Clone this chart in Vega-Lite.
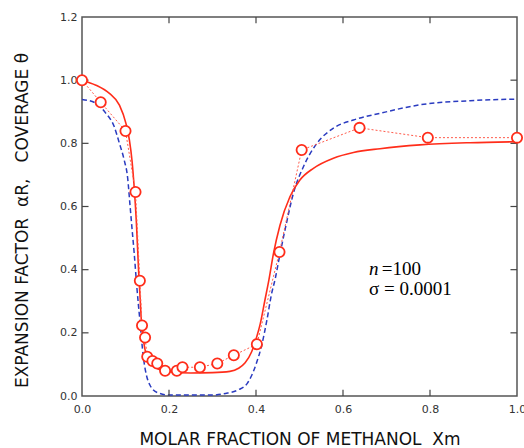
{
  "$schema": "https://vega.github.io/schema/vega-lite/v6.json",
  "width": 435,
  "height": 379,
  "autosize": {"type": "none"},
  "padding": {"left": 82, "top": 17, "right": 7, "bottom": 52},
  "background": "white",
  "config": {
    "view": {"stroke": "#555", "strokeWidth": 1.5},
    "axis": {
      "domain": false,
      "ticks": false,
      "grid": false,
      "labelFlush": false,
      "labelFont": "DejaVu Sans",
      "labelFontSize": 11,
      "labelColor": "#333",
      "titleFont": "DejaVu Sans",
      "titleFontWeight": "normal",
      "titleColor": "#111"
    }
  },
  "datasets": {
    "blue": [
      {"x": 0, "y": 0.939}, {"x": 0.032, "y": 0.927}, {"x": 0.055, "y": 0.895},
      {"x": 0.074, "y": 0.853}, {"x": 0.086, "y": 0.8}, {"x": 0.097, "y": 0.747},
      {"x": 0.105, "y": 0.69}, {"x": 0.11, "y": 0.61}, {"x": 0.115, "y": 0.53},
      {"x": 0.12, "y": 0.452}, {"x": 0.126, "y": 0.346}, {"x": 0.133, "y": 0.24},
      {"x": 0.141, "y": 0.124}, {"x": 0.149, "y": 0.061}, {"x": 0.156, "y": 0.035},
      {"x": 0.164, "y": 0.019}, {"x": 0.179, "y": 0.008}, {"x": 0.2, "y": 0.003},
      {"x": 0.3, "y": 0.003}, {"x": 0.33, "y": 0.008}, {"x": 0.36, "y": 0.02},
      {"x": 0.38, "y": 0.04}, {"x": 0.39, "y": 0.065}, {"x": 0.4, "y": 0.1},
      {"x": 0.413, "y": 0.16}, {"x": 0.425, "y": 0.24}, {"x": 0.436, "y": 0.325},
      {"x": 0.444, "y": 0.37}, {"x": 0.454, "y": 0.441}, {"x": 0.47, "y": 0.547},
      {"x": 0.486, "y": 0.642}, {"x": 0.509, "y": 0.726}, {"x": 0.54, "y": 0.8},
      {"x": 0.578, "y": 0.848}, {"x": 0.624, "y": 0.874}, {"x": 0.685, "y": 0.895},
      {"x": 0.777, "y": 0.922}, {"x": 0.892, "y": 0.935}, {"x": 1.0, "y": 0.94}
    ],
    "red": [
      {"x": 0, "y": 1.0}, {"x": 0.032, "y": 0.984}, {"x": 0.063, "y": 0.958},
      {"x": 0.086, "y": 0.921}, {"x": 0.101, "y": 0.863}, {"x": 0.109, "y": 0.81},
      {"x": 0.115, "y": 0.745}, {"x": 0.12, "y": 0.66}, {"x": 0.125, "y": 0.55},
      {"x": 0.13, "y": 0.4}, {"x": 0.134, "y": 0.3}, {"x": 0.137, "y": 0.225},
      {"x": 0.141, "y": 0.18}, {"x": 0.145, "y": 0.146}, {"x": 0.15, "y": 0.125},
      {"x": 0.16, "y": 0.1}, {"x": 0.18, "y": 0.083}, {"x": 0.2, "y": 0.077},
      {"x": 0.25, "y": 0.073}, {"x": 0.3, "y": 0.074}, {"x": 0.34, "y": 0.078},
      {"x": 0.36, "y": 0.088}, {"x": 0.375, "y": 0.105}, {"x": 0.39, "y": 0.14},
      {"x": 0.4, "y": 0.18}, {"x": 0.41, "y": 0.23}, {"x": 0.42, "y": 0.3},
      {"x": 0.43, "y": 0.37}, {"x": 0.44, "y": 0.45}, {"x": 0.455, "y": 0.54},
      {"x": 0.478, "y": 0.631}, {"x": 0.501, "y": 0.684}, {"x": 0.532, "y": 0.721},
      {"x": 0.578, "y": 0.753}, {"x": 0.624, "y": 0.771}, {"x": 0.685, "y": 0.783},
      {"x": 0.777, "y": 0.795}, {"x": 0.892, "y": 0.802}, {"x": 1.0, "y": 0.805}
    ],
    "exp": [
      {"x": 0.0, "y": 1.0}, {"x": 0.043, "y": 0.93}, {"x": 0.1, "y": 0.839},
      {"x": 0.123, "y": 0.646}, {"x": 0.133, "y": 0.365}, {"x": 0.138, "y": 0.223},
      {"x": 0.145, "y": 0.185}, {"x": 0.15, "y": 0.124}, {"x": 0.162, "y": 0.111},
      {"x": 0.173, "y": 0.103}, {"x": 0.191, "y": 0.08}, {"x": 0.218, "y": 0.08},
      {"x": 0.231, "y": 0.091}, {"x": 0.271, "y": 0.091}, {"x": 0.311, "y": 0.103},
      {"x": 0.349, "y": 0.129}, {"x": 0.402, "y": 0.164}, {"x": 0.454, "y": 0.456},
      {"x": 0.505, "y": 0.779}, {"x": 0.638, "y": 0.849}, {"x": 0.795, "y": 0.818},
      {"x": 1.0, "y": 0.818}
    ],
    "xticks": [{"v": 0.2}, {"v": 0.4}, {"v": 0.6}, {"v": 0.8}],
    "yticks": [{"v": 0.2}, {"v": 0.4}, {"v": 0.6}, {"v": 0.8}, {"v": 1.0}],
    "noteItalic": [{"x": 0.66, "y": 0.383, "t": "n"}],
    "note": [
      {"x": 0.689, "y": 0.383, "t": "=100"},
      {"x": 0.66, "y": 0.32, "t": "σ = 0.0001"}
    ]
  },
  "layer": [
    {
      "data": {"name": "blue"},
      "mark": {"type": "line", "color": "#2a3bc0", "strokeWidth": 1.5, "strokeDash": [5, 3], "interpolate": "monotone"},
      "encoding": {
        "x": {
          "field": "x", "type": "quantitative",
          "scale": {"domain": [0, 1], "nice": false},
          "axis": {
            "orient": "bottom",
            "values": [0, 0.2, 0.4, 0.6, 0.8, 1.0],
            "format": ".1f",
            "labelPadding": 7,
            "title": "MOLAR FRACTION OF METHANOL\u00a0\u00a0Xm",
            "titleFontSize": 17,
            "titlePadding": 17
          }
        },
        "y": {
          "field": "y", "type": "quantitative",
          "scale": {"domain": [0, 1.2], "nice": false},
          "axis": {
            "orient": "left",
            "values": [0, 0.2, 0.4, 0.6, 0.8, 1.0, 1.2],
            "format": ".1f",
            "labelPadding": 5,
            "title": "EXPANSION FACTOR\u00a0\u00a0αR,\u00a0\u00a0\u00a0COVERAGE\u00a0θ",
            "titleFontSize": 17,
            "titlePadding": 28,
            "titleY": 203
          }
        }
      }
    },
    {
      "data": {"name": "xticks"},
      "mark": {"type": "rule", "color": "#444", "strokeWidth": 1.2},
      "encoding": {
        "x": {"field": "v", "type": "quantitative"},
        "y": {"datum": 0, "type": "quantitative"},
        "y2": {"datum": 0.02}
      }
    },
    {
      "data": {"name": "xticks"},
      "mark": {"type": "rule", "color": "#444", "strokeWidth": 1.2},
      "encoding": {
        "x": {"field": "v", "type": "quantitative"},
        "y": {"datum": 1.2, "type": "quantitative"},
        "y2": {"datum": 1.18}
      }
    },
    {
      "data": {"name": "yticks"},
      "mark": {"type": "rule", "color": "#444", "strokeWidth": 1.2},
      "encoding": {
        "y": {"field": "v", "type": "quantitative"},
        "x": {"datum": 0, "type": "quantitative"},
        "x2": {"datum": 0.015}
      }
    },
    {
      "data": {"name": "yticks"},
      "mark": {"type": "rule", "color": "#444", "strokeWidth": 1.2},
      "encoding": {
        "y": {"field": "v", "type": "quantitative"},
        "x": {"datum": 1, "type": "quantitative"},
        "x2": {"datum": 0.985}
      }
    },
    {
      "data": {"name": "red"},
      "mark": {"type": "line", "color": "#ff2d1a", "strokeWidth": 1.6, "interpolate": "monotone"},
      "encoding": {
        "x": {"field": "x", "type": "quantitative"},
        "y": {"field": "y", "type": "quantitative"}
      }
    },
    {
      "data": {"name": "exp"},
      "mark": {"type": "line", "color": "#ff5a4a", "strokeWidth": 1, "strokeDash": [2, 2]},
      "encoding": {
        "x": {"field": "x", "type": "quantitative"},
        "y": {"field": "y", "type": "quantitative"}
      }
    },
    {
      "data": {"name": "exp"},
      "mark": {"type": "point", "shape": "circle", "filled": false, "fill": "white", "fillOpacity": 1, "stroke": "#ff2d1a", "strokeWidth": 1.8, "size": 105, "opacity": 1},
      "encoding": {
        "x": {"field": "x", "type": "quantitative"},
        "y": {"field": "y", "type": "quantitative"}
      }
    },
    {
      "data": {"name": "noteItalic"},
      "mark": {"type": "text", "font": "Liberation Serif", "fontSize": 19, "fontStyle": "italic", "align": "left", "baseline": "alphabetic", "color": "#000"},
      "encoding": {
        "x": {"field": "x", "type": "quantitative"},
        "y": {"field": "y", "type": "quantitative"},
        "text": {"field": "t"}
      }
    },
    {
      "data": {"name": "note"},
      "mark": {"type": "text", "font": "Liberation Serif", "fontSize": 19, "align": "left", "baseline": "alphabetic", "color": "#000"},
      "encoding": {
        "x": {"field": "x", "type": "quantitative"},
        "y": {"field": "y", "type": "quantitative"},
        "text": {"field": "t"}
      }
    }
  ]
}
